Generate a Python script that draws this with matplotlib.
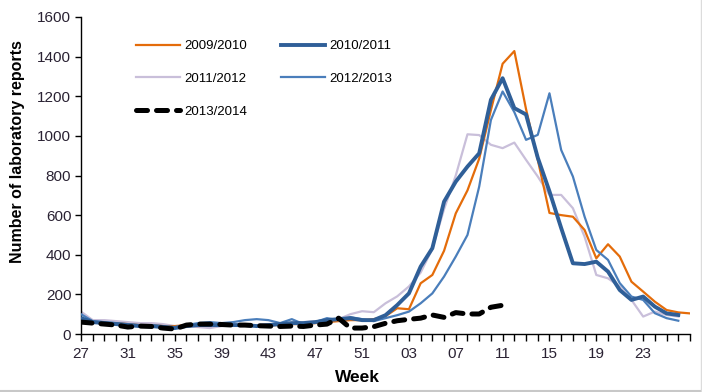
import matplotlib
matplotlib.use("Agg")
import matplotlib.pyplot as plt
from matplotlib.ticker import FixedLocator, MultipleLocator
from matplotlib.lines import Line2D

plt.rcParams['font.family'] = ['Liberation Sans', 'DejaVu Sans']

tick_positions = [0, 4, 8, 12, 16, 20, 24, 28, 32, 36, 40, 44, 48]
tick_labels = ['27', '31', '35', '39', '43', '47', '51', '03', '07', '11', '15', '19', '23']

s0910 = [65, 60, 55, 55, 50, 45, 45, 40, 40, 45, 40, 45, 45, 45, 45, 40, 45, 45, 50, 50,
         55, 60, 65, 70, 70, 75, 90, 130, 125, 256, 298, 420, 609, 725, 885, 1130, 1364,
         1428, 1135, 880, 611, 600, 592, 525, 382, 453, 391, 264, 214, 163, 121, 109, 104]
s1011 = [80, 60, 55, 50, 45, 40, 40, 35, 30, 40, 45, 45, 45, 45, 45, 40, 45, 50, 55, 55,
         60, 70, 75, 80, 70, 70, 95, 146, 205, 340, 433, 668, 769, 845, 912, 1182, 1291,
         1140, 1108, 890, 720, 535, 357, 353, 365, 315, 222, 172, 189, 138, 104, 96]
s1112 = [113, 70, 70, 65, 60, 55, 55, 50, 40, 40, 35, 30, 40, 50, 45, 45, 50, 50, 55, 60,
         65, 65, 75, 100, 115, 110, 155, 190, 240, 310, 430, 630, 800, 1008, 1004, 955, 938,
         966, 879, 795, 702, 702, 635, 491, 298, 281, 239, 172, 88, 113, 96, 88]
s1213 = [100, 65, 60, 55, 50, 45, 45, 40, 35, 45, 55, 60, 55, 60, 70, 75, 70, 55, 75, 50,
         60, 80, 70, 85, 75, 65, 80, 95, 113, 155, 205, 290, 391, 500, 744, 1080, 1224,
         1120, 980, 1005, 1215, 929, 795, 592, 424, 374, 257, 189, 172, 105, 80, 67]
s1314 = [60, 55, 50, 45, 35, 40, 38, 30, 25, 45, 50, 50, 48, 45, 45, 42, 40, 38, 40, 38,
         45, 50, 80, 30, 30, 37, 54, 67, 74, 80, 96, 84, 108, 101, 101, 135, 145]

fig = plt.figure(figsize=(7.02, 3.92), dpi=100)
ax = fig.add_axes([81/702, 1 - 334/392, (690-81)/702, (334-17)/392])

c_orange = '#E46C0A'
c_dark = '#2F5F98'
c_lilac = '#C9BFDA'
c_mid = '#4A7EBB'

l1, = ax.plot(range(len(s0910)), s0910, color=c_orange, lw=1.6, label='2009/2010', zorder=3)
l3, = ax.plot(range(len(s1112)), s1112, color=c_lilac, lw=1.6, label='2011/2012', zorder=2)
l4, = ax.plot(range(len(s1213)), s1213, color=c_mid, lw=1.6, label='2012/2013', zorder=4)
l2, = ax.plot(range(len(s1011)), s1011, color=c_dark, lw=2.8, label='2010/2011', zorder=5)
l5, = ax.plot(range(len(s1314)), s1314, color='black', lw=3.6, label='2013/2014', zorder=6,
              dashes=(2.2, 1.8), dash_capstyle='round', solid_capstyle='round')

ax.set_xlim(0, 52)
ax.set_ylim(0, 1600)
ax.yaxis.set_major_locator(MultipleLocator(200))
ax.xaxis.set_major_locator(FixedLocator(tick_positions))
ax.set_xticklabels(tick_labels)
ax.xaxis.set_minor_locator(MultipleLocator(1))

for s in ['top', 'right']:
    ax.spines[s].set_visible(False)
for s in ['left', 'bottom']:
    ax.spines[s].set_linewidth(1.0)
    ax.spines[s].set_color('black')

ax.tick_params(axis='both', which='both', direction='out', width=1.0, color='black')
ax.tick_params(axis='x', which='major', length=5, labelsize=11, pad=4, labelcolor='#2a2233')
ax.tick_params(axis='x', which='minor', length=5)
ax.tick_params(axis='y', which='major', length=4, labelsize=11, pad=3, labelcolor='#2a2233')

fig.text(18/702, 1 - 152/392, 'Number of laboratory reports', rotation=90,
         ha='center', va='center', fontsize=11.5, fontweight='bold')
fig.text(357/702, 1 - 378/392, 'Week', ha='center', va='center', fontsize=12.5, fontweight='bold')

leg = ax.legend(handles=[l1, l3, l5, l2, l4], ncol=2, frameon=False, loc='upper left',
                bbox_to_anchor=(136/702, 1 - 40/392), bbox_transform=fig.transFigure,
                borderpad=0, borderaxespad=0, fontsize=9.5, handlelength=3.3,
                handletextpad=0.35, labelspacing=1.55, columnspacing=2.6)

# light grey frame edges at bottom and right of the picture
fig.add_artist(Line2D([0, 700.5/702], [1.5/392, 1.5/392], transform=fig.transFigure,
                      color='#c8c8c8', lw=1.5))
fig.add_artist(Line2D([700.5/702, 700.5/702], [1.5/392, 1], transform=fig.transFigure,
                      color='#dcdcdc', lw=1.0))

fig.savefig('out.png', dpi=100)
